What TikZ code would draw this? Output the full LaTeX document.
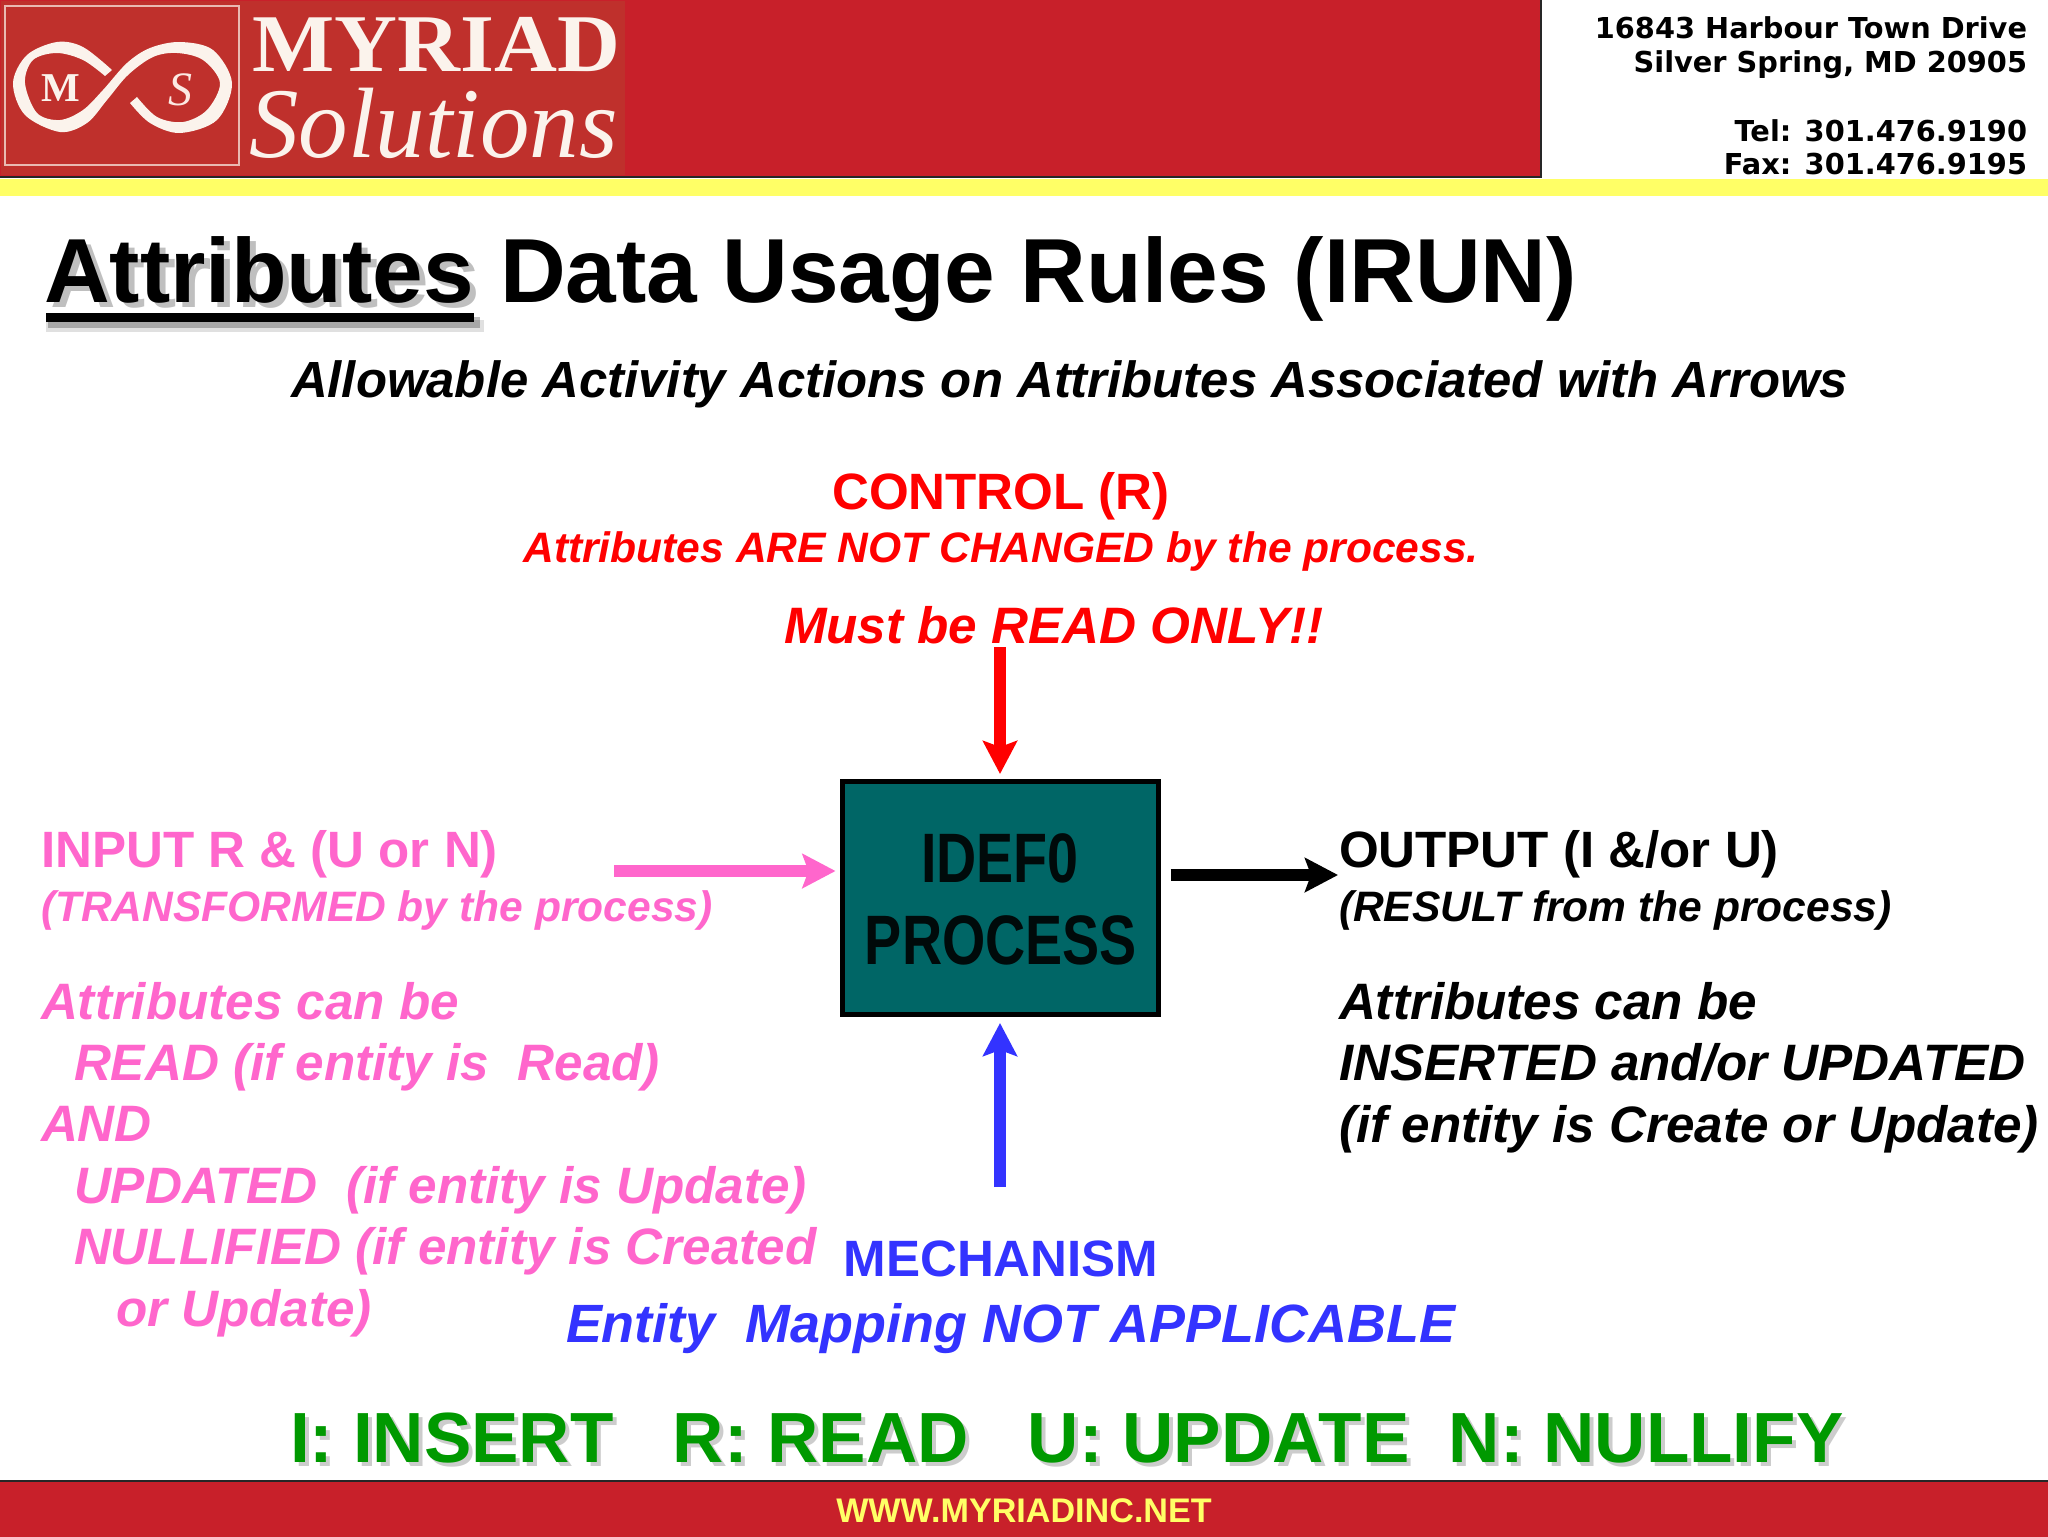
\documentclass[tikz,border=0pt]{standalone}
\usepackage{fontspec}
\setmainfont{Liberation Sans}
\newfontfamily\verd{DejaVu Sans}
\newfontfamily\ser{Liberation Serif}
\usetikzlibrary{arrows.meta}
\definecolor{hdrred}{HTML}{C8202A}
\definecolor{logored}{HTML}{BF302C}
\definecolor{band}{HTML}{FFFF66}
\definecolor{pinkc}{HTML}{FF66CC}
\definecolor{bluec}{HTML}{3333FF}
\definecolor{redc}{HTML}{FF0000}
\definecolor{greenc}{HTML}{009900}
\definecolor{tealc}{HTML}{006666}
\definecolor{cream}{HTML}{FBF3EC}
\newcommand{\bi}{\bfseries\itshape}
\newcommand{\fz}[1]{\fontsize{#1}{#1}\selectfont}
\tikzset{
  txt/.style={inner sep=0pt,outer sep=0pt,anchor=base west,font=\bfseries},
  txtc/.style={inner sep=0pt,outer sep=0pt,anchor=base,font=\bfseries},
  txtr/.style={inner sep=0pt,outer sep=0pt,anchor=base east,font=\verd\bfseries\fz{14.4}},
  arr/.style={line width=5.75pt,-{Stealth[length=16.5pt,width=17pt,inset=3pt]}},
  big/.style={font=\bfseries\fz{25.55}},
  bigi/.style={font=\bi\fz{25.6}},
  midi/.style={font=\bi\fz{21.28}},
  shadowt/.style={text=black,opacity=.25},
}
\begin{document}
\begin{tikzpicture}[x=0.5pt,y=-0.5pt]
\useasboundingbox (0,0) rectangle (2048,1536);
% header
\fill[white] (0,0) rectangle (2048,1536);
\draw[fill=hdrred,draw=black!85,line width=1pt] (-2,-2) rectangle (1541,177);
\fill[logored] (1,1) rectangle (625,175);
\draw[cream!70!logored,line width=.7pt] (5,6) rectangle (239,165);
\fill[band] (0,179) rectangle (2048,196);
\fill[cream] plot[smooth,tension=.55] coordinates {
 (112,70) (83,47) (57,42) (27,55) (13,83) (25,115) (60,132) (87,123) (107,100)
 (128,75) (153,57) (177,53) (203,60) (220,83) (207,110) (183,122) (157,117) (137,97)}
 -- plot[smooth,tension=.55] coordinates {
 (130,103) (150,123) (180,133) (217,120) (232,83) (213,50) (180,42) (150,48) (127,63)
 (103,90) (83,110) (60,120) (37,113) (25,83) (33,60) (57,53) (83,60) (105,76)} -- cycle;
\node[inner sep=0pt,text=cream,font=\ser\bfseries\fz{20.5}] (logom) at (61,88) {M};
\node[inner sep=0pt,text=cream!80!pink,font=\ser\itshape\fz{24}] (logos) at (180,90) {S};
\node[inner sep=0pt,anchor=base west,text=cream,font=\ser\bfseries\fz{41},xscale=1.062] (myriad) at (252,72) {MYRIAD};
\node[inner sep=0pt,anchor=base west,text=cream,font=\ser\itshape\fz{50},xscale=.99] (solutions) at (249,157) {Solutions};
% address
\node[txtr] (a1) at (2027,39) {16843 Harbour Town Drive};
\node[txtr] (a2) at (2027,73) {Silver Spring, MD 20905};
\node[txtr] (a3) at (2027,141) {Tel: 301.476.9190};
\node[txtr] (a4) at (2027,174) {Fax: 301.476.9195};
% title
\fill[black,opacity=.12] (46,320) rectangle (484,332);
\fill[black,opacity=.25] (48,317) rectangle (480,328);
\node[txt,shadowt,font=\bfseries\fz{45.5}] (titleshadowa) at (50,307) {Attributes};
\node[txt,font=\bfseries\fz{45.5}] (titlea) at (44,302) {Attributes};
\fill[black] (46,313) rectangle (474,322);
\node[txt,font=\bfseries\fz{45.5}] (titleb) at (500,302) {Data Usage Rules (IRUN)};
\node[txt,font=\bi\fz{25.43}] (sub) at (291,397) {Allowable Activity Actions on Attributes Associated with Arrows};
% control
\node[txtc,big,text=redc] (c1) at (1001,509) {CONTROL (R)};
\node[txtc,midi,text=redc] (c2) at (1001,562) {Attributes ARE NOT CHANGED by the process.};
\node[txt,bigi,text=redc] (c3) at (784,643) {Must be READ ONLY!!};
% box
\node[draw=black,line width=2.5pt,fill=tealc,minimum width=158pt,minimum height=116.5pt,inner sep=0pt] (box) at (1000,898) {};
\node[txtc,text=black!90!tealc,font=\bfseries\fz{35},xscale=.795] (idef) at (1000,882) {IDEF0};
\node[txtc,text=black!90!tealc,font=\bfseries\fz{35},xscale=.795] (proc) at (1001,964) {PROCESS};
% connectors
\coordinate (ctail) at (1000,647);
\coordinate (mtail) at (1000,1187);
\coordinate (itail) at (614,871);
\coordinate (otip) at (1338,875);
\draw[arr,redc,shorten >=2.5pt] (ctail) -- (box.north);
\draw[arr,bluec,shorten >=3pt] (mtail) -- (box.south);
\draw[arr,pinkc,shorten >=2pt] (itail) -- (itail -| box.west);
\draw[arr,black,shorten <=5pt] (otip -| box.east) -- (otip);
% input
\node[txt,big,text=pinkc] (i1) at (41,867) {INPUT R \& (U or N)};
\node[txt,midi,text=pinkc] (i2) at (41,921) {(TRANSFORMED by the process)};
\node[txt,bigi,text=pinkc] (i3) at (41,1019) {Attributes can be};
\node[txt,bigi,text=pinkc] (i4) at (74,1080) {READ (if entity is\ \ Read)};
\node[txt,bigi,text=pinkc] (i5) at (41,1141) {AND};
\node[txt,bigi,text=pinkc] (i6) at (74,1203) {UPDATED\ \ (if entity is Update)};
\node[txt,bigi,text=pinkc] (i7) at (74,1264) {NULLIFIED (if entity is Created};
\node[txt,bigi,text=pinkc] (i8) at (116,1326) {or Update)};
% output
\node[txt,big] (o1) at (1339,867) {OUTPUT (I \&/or U)};
\node[txt,midi] (o2) at (1339,921) {(RESULT from the process)};
\node[txt,bigi] (o3) at (1339,1019) {Attributes can be};
\node[txt,bigi] (o4) at (1339,1080) {INSERTED and/or UPDATED};
\node[txt,bigi] (o5) at (1339,1142) {(if entity is Create or Update)};
% mechanism
\node[txtc,big,text=bluec] (m1) at (1001,1276) {MECHANISM};
\node[txt,font=\bi\fz{26.95},text=bluec] (m2) at (566,1342) {Entity\ \ Mapping NOT APPLICABLE};
% legend
\node[txt,font=\bfseries\fz{35.52},text=black,opacity=.2] (legs) at (294,1466) {I: INSERT\ \ \ R: READ\ \ \ U: UPDATE\ \ N: NULLIFY};
\node[txt,font=\bfseries\fz{35.52},text=greenc] (leg) at (290,1462) {I: INSERT\ \ \ R: READ\ \ \ U: UPDATE\ \ N: NULLIFY};
% footer
\draw[fill=hdrred,draw=black!85,line width=1pt] (-2,1481) rectangle (2050,1538);
\node[txtc,font=\bfseries\fz{17.07},text=band] (foot) at (1024,1522) {WWW.MYRIADINC.NET};
\end{tikzpicture}
\end{document}
